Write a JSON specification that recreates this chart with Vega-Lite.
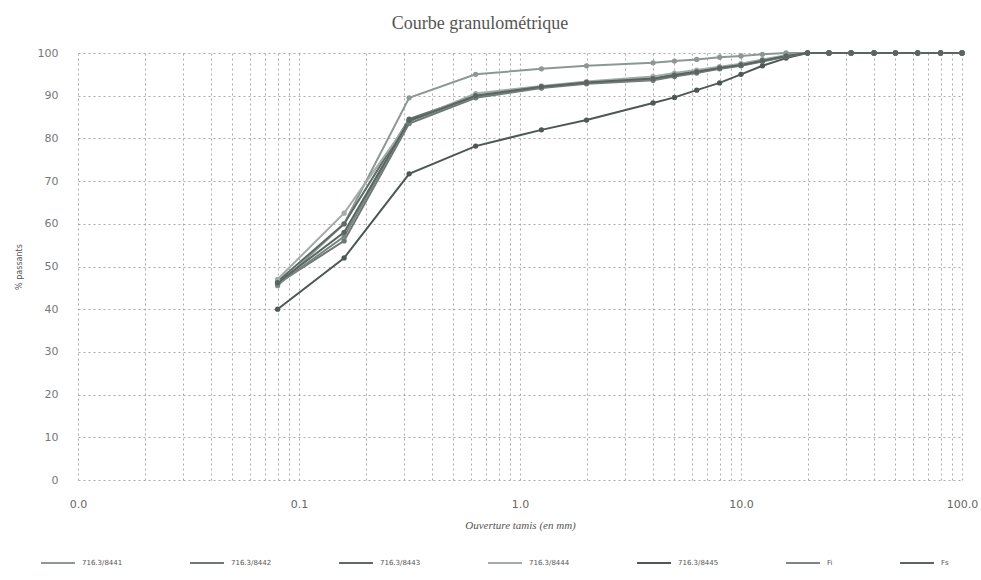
{
  "$schema": "https://vega.github.io/schema/vega-lite/v6.json",
  "width": 884,
  "height": 427,
  "autosize": {"type": "none"},
  "padding": {"left": 78, "top": 53, "right": 19, "bottom": 100},
  "background": "#ffffff",
  "title": {
    "text": "Courbe granulométrique",
    "font": "Liberation Serif",
    "fontSize": 18,
    "fontWeight": "normal",
    "color": "#555555",
    "offset": 14,
    "dx": -40
  },
  "data": {
    "values": [
      {"echantillon": "716.3/8441", "tamis": 0.08, "passant": 45.5},
      {"echantillon": "716.3/8441", "tamis": 0.16, "passant": 60},
      {"echantillon": "716.3/8441", "tamis": 0.315, "passant": 89.5},
      {"echantillon": "716.3/8441", "tamis": 0.63, "passant": 95},
      {"echantillon": "716.3/8441", "tamis": 1.25, "passant": 96.3},
      {"echantillon": "716.3/8441", "tamis": 2, "passant": 97},
      {"echantillon": "716.3/8441", "tamis": 4, "passant": 97.7},
      {"echantillon": "716.3/8441", "tamis": 5, "passant": 98.1},
      {"echantillon": "716.3/8441", "tamis": 6.3, "passant": 98.5},
      {"echantillon": "716.3/8441", "tamis": 8, "passant": 99},
      {"echantillon": "716.3/8441", "tamis": 10, "passant": 99.3},
      {"echantillon": "716.3/8441", "tamis": 12.5, "passant": 99.7},
      {"echantillon": "716.3/8441", "tamis": 16, "passant": 100},
      {"echantillon": "716.3/8441", "tamis": 20, "passant": 100},
      {"echantillon": "716.3/8441", "tamis": 25, "passant": 100},
      {"echantillon": "716.3/8441", "tamis": 31.5, "passant": 100},
      {"echantillon": "716.3/8441", "tamis": 40, "passant": 100},
      {"echantillon": "716.3/8441", "tamis": 50, "passant": 100},
      {"echantillon": "716.3/8441", "tamis": 63, "passant": 100},
      {"echantillon": "716.3/8441", "tamis": 80, "passant": 100},
      {"echantillon": "716.3/8441", "tamis": 100, "passant": 100},

      {"echantillon": "716.3/8442", "tamis": 0.08, "passant": 46},
      {"echantillon": "716.3/8442", "tamis": 0.16, "passant": 56},
      {"echantillon": "716.3/8442", "tamis": 0.315, "passant": 83.5},
      {"echantillon": "716.3/8442", "tamis": 0.63, "passant": 89.5},
      {"echantillon": "716.3/8442", "tamis": 1.25, "passant": 91.8},
      {"echantillon": "716.3/8442", "tamis": 2, "passant": 92.8},
      {"echantillon": "716.3/8442", "tamis": 4, "passant": 93.6},
      {"echantillon": "716.3/8442", "tamis": 5, "passant": 94.5},
      {"echantillon": "716.3/8442", "tamis": 6.3, "passant": 95.3},
      {"echantillon": "716.3/8442", "tamis": 8, "passant": 96.3},
      {"echantillon": "716.3/8442", "tamis": 10, "passant": 97},
      {"echantillon": "716.3/8442", "tamis": 12.5, "passant": 98},
      {"echantillon": "716.3/8442", "tamis": 16, "passant": 99.2},
      {"echantillon": "716.3/8442", "tamis": 20, "passant": 100},
      {"echantillon": "716.3/8442", "tamis": 25, "passant": 100},
      {"echantillon": "716.3/8442", "tamis": 31.5, "passant": 100},
      {"echantillon": "716.3/8442", "tamis": 40, "passant": 100},
      {"echantillon": "716.3/8442", "tamis": 50, "passant": 100},
      {"echantillon": "716.3/8442", "tamis": 63, "passant": 100},
      {"echantillon": "716.3/8442", "tamis": 80, "passant": 100},
      {"echantillon": "716.3/8442", "tamis": 100, "passant": 100},

      {"echantillon": "716.3/8443", "tamis": 0.08, "passant": 46.5},
      {"echantillon": "716.3/8443", "tamis": 0.16, "passant": 60},
      {"echantillon": "716.3/8443", "tamis": 0.315, "passant": 84.5},
      {"echantillon": "716.3/8443", "tamis": 0.63, "passant": 90},
      {"echantillon": "716.3/8443", "tamis": 1.25, "passant": 92},
      {"echantillon": "716.3/8443", "tamis": 2, "passant": 93},
      {"echantillon": "716.3/8443", "tamis": 4, "passant": 94},
      {"echantillon": "716.3/8443", "tamis": 5, "passant": 95},
      {"echantillon": "716.3/8443", "tamis": 6.3, "passant": 95.8},
      {"echantillon": "716.3/8443", "tamis": 8, "passant": 96.5},
      {"echantillon": "716.3/8443", "tamis": 10, "passant": 97.3},
      {"echantillon": "716.3/8443", "tamis": 12.5, "passant": 98.3},
      {"echantillon": "716.3/8443", "tamis": 16, "passant": 99.3},
      {"echantillon": "716.3/8443", "tamis": 20, "passant": 100},
      {"echantillon": "716.3/8443", "tamis": 25, "passant": 100},
      {"echantillon": "716.3/8443", "tamis": 31.5, "passant": 100},
      {"echantillon": "716.3/8443", "tamis": 40, "passant": 100},
      {"echantillon": "716.3/8443", "tamis": 50, "passant": 100},
      {"echantillon": "716.3/8443", "tamis": 63, "passant": 100},
      {"echantillon": "716.3/8443", "tamis": 80, "passant": 100},
      {"echantillon": "716.3/8443", "tamis": 100, "passant": 100},

      {"echantillon": "716.3/8444", "tamis": 0.08, "passant": 47},
      {"echantillon": "716.3/8444", "tamis": 0.16, "passant": 62.5},
      {"echantillon": "716.3/8444", "tamis": 0.315, "passant": 84},
      {"echantillon": "716.3/8444", "tamis": 0.63, "passant": 90.5},
      {"echantillon": "716.3/8444", "tamis": 1.25, "passant": 92.3},
      {"echantillon": "716.3/8444", "tamis": 2, "passant": 93.3},
      {"echantillon": "716.3/8444", "tamis": 4, "passant": 94.5},
      {"echantillon": "716.3/8444", "tamis": 5, "passant": 95.3},
      {"echantillon": "716.3/8444", "tamis": 6.3, "passant": 96},
      {"echantillon": "716.3/8444", "tamis": 8, "passant": 96.8},
      {"echantillon": "716.3/8444", "tamis": 10, "passant": 97.5},
      {"echantillon": "716.3/8444", "tamis": 12.5, "passant": 98.5},
      {"echantillon": "716.3/8444", "tamis": 16, "passant": 99.5},
      {"echantillon": "716.3/8444", "tamis": 20, "passant": 100},
      {"echantillon": "716.3/8444", "tamis": 25, "passant": 100},
      {"echantillon": "716.3/8444", "tamis": 31.5, "passant": 100},
      {"echantillon": "716.3/8444", "tamis": 40, "passant": 100},
      {"echantillon": "716.3/8444", "tamis": 50, "passant": 100},
      {"echantillon": "716.3/8444", "tamis": 63, "passant": 100},
      {"echantillon": "716.3/8444", "tamis": 80, "passant": 100},
      {"echantillon": "716.3/8444", "tamis": 100, "passant": 100},

      {"echantillon": "716.3/8445", "tamis": 0.08, "passant": 40},
      {"echantillon": "716.3/8445", "tamis": 0.16, "passant": 52},
      {"echantillon": "716.3/8445", "tamis": 0.315, "passant": 71.7},
      {"echantillon": "716.3/8445", "tamis": 0.63, "passant": 78.2},
      {"echantillon": "716.3/8445", "tamis": 1.25, "passant": 82},
      {"echantillon": "716.3/8445", "tamis": 2, "passant": 84.3},
      {"echantillon": "716.3/8445", "tamis": 4, "passant": 88.3},
      {"echantillon": "716.3/8445", "tamis": 5, "passant": 89.6},
      {"echantillon": "716.3/8445", "tamis": 6.3, "passant": 91.3},
      {"echantillon": "716.3/8445", "tamis": 8, "passant": 93},
      {"echantillon": "716.3/8445", "tamis": 10, "passant": 95},
      {"echantillon": "716.3/8445", "tamis": 12.5, "passant": 97},
      {"echantillon": "716.3/8445", "tamis": 16, "passant": 98.8},
      {"echantillon": "716.3/8445", "tamis": 20, "passant": 100},
      {"echantillon": "716.3/8445", "tamis": 25, "passant": 100},
      {"echantillon": "716.3/8445", "tamis": 31.5, "passant": 100},
      {"echantillon": "716.3/8445", "tamis": 40, "passant": 100},
      {"echantillon": "716.3/8445", "tamis": 50, "passant": 100},
      {"echantillon": "716.3/8445", "tamis": 63, "passant": 100},
      {"echantillon": "716.3/8445", "tamis": 80, "passant": 100},
      {"echantillon": "716.3/8445", "tamis": 100, "passant": 100},

      {"echantillon": "Fi", "tamis": 0.08, "passant": 45.8},
      {"echantillon": "Fi", "tamis": 0.16, "passant": 57},
      {"echantillon": "Fi", "tamis": 0.315, "passant": 84},
      {"echantillon": "Fi", "tamis": 0.63, "passant": 89.8},
      {"echantillon": "Fi", "tamis": 1.25, "passant": 92},
      {"echantillon": "Fi", "tamis": 2, "passant": 93},
      {"echantillon": "Fi", "tamis": 4, "passant": 93.8},
      {"echantillon": "Fi", "tamis": 5, "passant": 94.7},
      {"echantillon": "Fi", "tamis": 6.3, "passant": 95.5},
      {"echantillon": "Fi", "tamis": 8, "passant": 96.4},
      {"echantillon": "Fi", "tamis": 10, "passant": 97.1},
      {"echantillon": "Fi", "tamis": 12.5, "passant": 98.1},
      {"echantillon": "Fi", "tamis": 16, "passant": 99.2},
      {"echantillon": "Fi", "tamis": 20, "passant": 100},
      {"echantillon": "Fi", "tamis": 25, "passant": 100},
      {"echantillon": "Fi", "tamis": 31.5, "passant": 100},
      {"echantillon": "Fi", "tamis": 40, "passant": 100},
      {"echantillon": "Fi", "tamis": 50, "passant": 100},
      {"echantillon": "Fi", "tamis": 63, "passant": 100},
      {"echantillon": "Fi", "tamis": 80, "passant": 100},
      {"echantillon": "Fi", "tamis": 100, "passant": 100},

      {"echantillon": "Fs", "tamis": 0.08, "passant": 46.2},
      {"echantillon": "Fs", "tamis": 0.16, "passant": 58},
      {"echantillon": "Fs", "tamis": 0.315, "passant": 84.2},
      {"echantillon": "Fs", "tamis": 0.63, "passant": 90},
      {"echantillon": "Fs", "tamis": 1.25, "passant": 92.1},
      {"echantillon": "Fs", "tamis": 2, "passant": 93.1},
      {"echantillon": "Fs", "tamis": 4, "passant": 94},
      {"echantillon": "Fs", "tamis": 5, "passant": 94.8},
      {"echantillon": "Fs", "tamis": 6.3, "passant": 95.6},
      {"echantillon": "Fs", "tamis": 8, "passant": 96.5},
      {"echantillon": "Fs", "tamis": 10, "passant": 97.2},
      {"echantillon": "Fs", "tamis": 12.5, "passant": 98.2},
      {"echantillon": "Fs", "tamis": 16, "passant": 99.3},
      {"echantillon": "Fs", "tamis": 20, "passant": 100},
      {"echantillon": "Fs", "tamis": 25, "passant": 100},
      {"echantillon": "Fs", "tamis": 31.5, "passant": 100},
      {"echantillon": "Fs", "tamis": 40, "passant": 100},
      {"echantillon": "Fs", "tamis": 50, "passant": 100},
      {"echantillon": "Fs", "tamis": 63, "passant": 100},
      {"echantillon": "Fs", "tamis": 80, "passant": 100},
      {"echantillon": "Fs", "tamis": 100, "passant": 100}
    ]
  },
  "config": {
    "view": {"stroke": null},
    "axis": {"domain": false}
  },
  "encoding": {
    "x": {
      "field": "tamis",
      "type": "quantitative",
      "scale": {"type": "log", "domain": [0.01, 100], "nice": false},
      "axis": {
        "values": [0.01,0.02,0.03,0.04,0.05,0.06,0.07,0.08,0.09,0.1,0.2,0.3,0.4,0.5,0.6,0.7,0.8,0.9,1,2,3,4,5,6,7,8,9,10,20,30,40,50,60,70,80,90,100],
        "labelExpr": "abs(log(datum.value)/LN10 - round(log(datum.value)/LN10)) < 0.000001 ? format(datum.value, '.1f') : ''",
        "ticks": false,
        "grid": true,
        "gridColor": "#aaaaaa",
        "gridDash": [2, 3],
        "gridWidth": 1,
        "labelFont": "DejaVu Sans",
        "labelFontSize": 11,
        "labelColor": "#666666",
        "labelPadding": 18,
        "labelOverlap": false,
        "labelFlush": false,
        "title": "Ouverture tamis (en mm)",
        "titleFont": "Liberation Serif",
        "titleFontStyle": "italic",
        "titleFontWeight": "normal",
        "titleFontSize": 11,
        "titleColor": "#555555",
        "titlePadding": 10,
        "titleX": 442
      }
    },
    "y": {
      "field": "passant",
      "type": "quantitative",
      "scale": {"domain": [0, 100], "nice": false},
      "axis": {
        "values": [0,10,20,30,40,50,60,70,80,90,100],
        "ticks": false,
        "grid": true,
        "gridColor": "#aaaaaa",
        "gridDash": [2, 3],
        "gridWidth": 1,
        "labelFont": "DejaVu Sans",
        "labelFontSize": 11,
        "labelColor": "#777777",
        "labelPadding": 20,
        "title": "% passants",
        "titleFont": "DejaVu Sans",
        "titleFontSize": 8,
        "titleFontWeight": "normal",
        "titleColor": "#555555",
        "titlePadding": 14
      }
    },
    "color": {
      "field": "echantillon",
      "type": "nominal",
      "scale": {
        "domain": ["716.3/8441", "716.3/8442", "716.3/8443", "716.3/8444", "716.3/8445", "Fi", "Fs"],
        "range": ["#8d9894", "#6c7874", "#5e6a67", "#a2aba8", "#4d5856", "#7a8682", "#5a6562"]
      },
      "legend": {
        "title": null,
        "orient": "none",
        "legendX": -38,
        "legendY": 492,
        "direction": "horizontal",
        "symbolType": "stroke",
        "symbolSize": 1150,
        "symbolStrokeWidth": 2,
        "labelFont": "DejaVu Sans",
        "labelFontSize": 7,
        "labelColor": "#555555",
        "columnPadding": 63,
        "labelOffset": 6
      }
    }
  },
  "layer": [
    {"mark": {"type": "line", "strokeWidth": 2}},
    {"mark": {"type": "circle", "size": 28, "opacity": 1}}
  ]
}
